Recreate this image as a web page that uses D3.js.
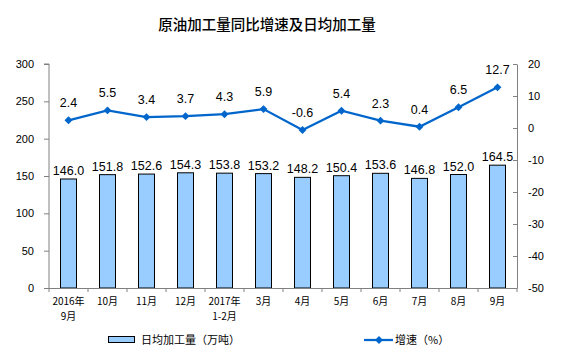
<!DOCTYPE html>
<html><head><meta charset="utf-8">
<script src="https://cdn.jsdelivr.net/npm/d3@7"></script>
<style>body{margin:0;background:#fff}svg{display:block}</style>
</head><body>
<svg id="c" width="562" height="358"></svg>
<script>
const categories = ["2016年\n9月","10月","11月","12月","2017年\n1-2月","3月","4月","5月","6月","7月","8月","9月"];
const dailyOutput = [146.0,151.8,152.6,154.3,153.8,153.2,148.2,150.4,153.6,146.8,152.0,164.5];
const growth = [2.4,5.5,3.4,3.7,4.3,5.9,-0.6,5.4,2.3,0.4,6.5,12.7];
const leftTicks = [0,50,100,150,200,250,300];
const rightTicks = [-50,-40,-30,-20,-10,0,10,20];

const svg = d3.select("#c");
const L = 49, R = 517, T = 64, B = 288;
const x = d3.scaleBand().domain(d3.range(categories.length)).range([L, R]).padding(0);
const yL = d3.scaleLinear().domain([0,300]).range([B,T]);
const yR = d3.scaleLinear().domain([-50,20]).range([B,T]);
const axisColor = "#808080";
const font = "'Liberation Sans', Arial, sans-serif";
const cjk = "'Noto Sans CJK SC', sans-serif";

svg.append("text").attr("x",267).attr("y",30).attr("text-anchor","middle")
  .attr("font-family",cjk).attr("font-size",14.5).attr("font-weight",500).attr("fill","#000")
  .text("原油加工量同比增速及日均加工量");

// bars
const bw = 16;
svg.selectAll("rect.bar").data(dailyOutput).join("rect")
  .attr("x",(d,i)=>x(i)+x.bandwidth()/2-bw/2).attr("y",d=>yL(d))
  .attr("width",bw).attr("height",d=>B-yL(d))
  .attr("fill","#99CCFF").attr("stroke","#000").attr("stroke-width",1);

svg.selectAll("text.bl").data(dailyOutput).join("text")
  .attr("x",(d,i)=>x(i)+x.bandwidth()/2).attr("y",d=>yL(d)-4)
  .attr("text-anchor","middle").attr("font-family",font).attr("font-size",12.5).attr("fill","#000")
  .text(d=>d.toFixed(1));

// axes
const fmt = d => String(d);
const gL = svg.append("g").attr("transform",`translate(${L},0)`)
  .call(d3.axisLeft(yL).tickValues(leftTicks).tickSize(5).tickPadding(10).tickFormat(fmt));
const gR = svg.append("g").attr("transform",`translate(${R},0)`)
  .call(d3.axisRight(yR).tickValues(rightTicks).tickSizeInner(-4).tickSizeOuter(0).tickPadding(11).tickFormat(fmt));
[gL,gR].forEach(g=>{
  g.select(".domain").attr("stroke",axisColor);
  g.selectAll(".tick line").attr("stroke",axisColor);
  g.selectAll(".tick text").attr("font-family",font).attr("font-size",11).attr("fill","#000");
});
gL.select(".domain").attr("d",`M-5,${T}H0V${B}`);
gR.selectAll(".tick text").attr("text-anchor","start");

// x axis
svg.append("line").attr("x1",L).attr("x2",R).attr("y1",B+0.5).attr("y2",B+0.5).attr("stroke",axisColor);
svg.selectAll("line.xt").data(d3.range(categories.length+1)).join("line")
  .attr("x1",i=>L+i*x.bandwidth()).attr("x2",i=>L+i*x.bandwidth())
  .attr("y1",B).attr("y2",B+4).attr("stroke",axisColor);
categories.forEach((c,i)=>{
  c.split("\n").forEach((p,j)=>{
    svg.append("text").attr("x",x(i)+x.bandwidth()/2).attr("y",305+j*15)
      .attr("text-anchor","middle").attr("font-family",cjk).attr("font-size",10).attr("fill","#000")
      .text(p);
  });
});

// line
const lineColor = "#0066CC";
const line = d3.line().x((d,i)=>x(i)+x.bandwidth()/2).y(d=>yR(d));
svg.append("path").datum(growth).attr("d",line).attr("fill","none").attr("stroke",lineColor).attr("stroke-width",2.25);
const diamond = d3.symbol().type(d3.symbolDiamond2).size(40);
svg.selectAll("path.m").data(growth).join("path")
  .attr("transform",(d,i)=>`translate(${x(i)+x.bandwidth()/2},${yR(d)})`)
  .attr("d",diamond).attr("fill",lineColor);
svg.selectAll("text.ll").data(growth).join("text")
  .attr("x",(d,i)=>x(i)+x.bandwidth()/2).attr("y",d=>yR(d)-13)
  .attr("text-anchor","middle").attr("font-family",font).attr("font-size",12.5).attr("fill","#000")
  .text(d=>d.toFixed(1));

// legend
svg.append("rect").attr("x",108.5).attr("y",336.5).attr("width",26).attr("height",6)
  .attr("fill","#99CCFF").attr("stroke","#000");
svg.append("text").attr("x",141).attr("y",344).attr("font-family",cjk).attr("font-size",11).attr("fill","#000")
  .text("日均加工量（万吨）");
svg.append("line").attr("x1",364).attr("x2",393).attr("y1",340).attr("y2",340).attr("stroke",lineColor).attr("stroke-width",2.25);
svg.append("path").attr("transform","translate(379,340)").attr("d",diamond).attr("fill",lineColor);
svg.append("text").attr("x",395).attr("y",344).attr("font-family",cjk).attr("font-size",11).attr("fill","#000")
  .text("增速（%）");
</script>
</body></html>
